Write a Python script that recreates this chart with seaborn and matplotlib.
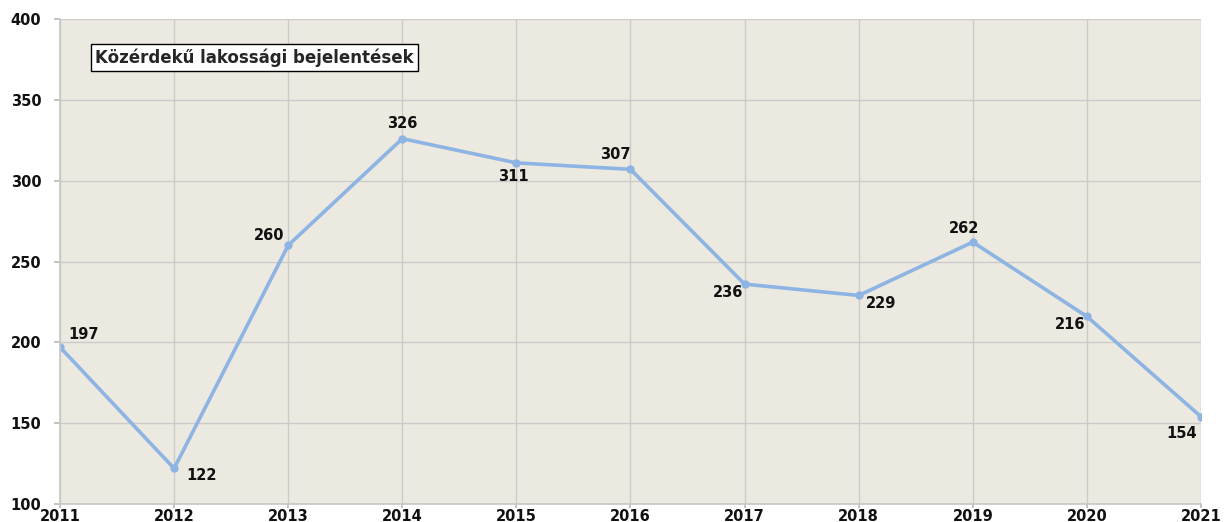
import matplotlib
matplotlib.use("Agg")
import matplotlib.pyplot as plt
import pandas as pd
import seaborn as sns

years = [2011, 2012, 2013, 2014, 2015, 2016, 2017, 2018, 2019, 2020, 2021]
reports = [197, 122, 260, 326, 311, 307, 236, 229, 262, 216, 154]
# label placement per point (offset in points)
label_offsets = [(17, 9), (20, -5), (-14, 7), (0, 11), (-2, -10),
                 (-11, 11), (-12, -6), (16, -6), (-6, 10), (-12, -6), (-14, -12)]

title = "Közérdekű lakossági bejelentések"

sns.set_theme(style="whitegrid")
plt.rcParams["font.family"] = ["DejaVu Sans"]

df = pd.DataFrame({"year": years, "reports": reports})

fig = plt.figure(figsize=(12.24, 5.22), dpi=100)
ax = fig.add_axes([60 / 1224, 1 - 504 / 522, 1141 / 1224, 485 / 522])
ax.set_facecolor("#ECE9E0")

sns.lineplot(data=df, x="year", y="reports", ax=ax, color="#8DB4E2",
             linewidth=2.6, marker="o", markersize=6, markeredgewidth=0)

for x, y, (dx, dy) in zip(years, reports, label_offsets):
    ax.annotate(str(y), (x, y), xytext=(dx, dy), textcoords="offset points",
                ha="center", va="center", fontsize=10.5, fontweight="bold", color="#111111")

ax.set_xlim(2011, 2021)
ax.set_ylim(100, 400)
ax.set_xticks(years)
ax.set_yticks(range(100, 401, 50))
ax.grid(True, color="#CBCBCB", linewidth=1)
ax.set_xlabel("")
ax.set_ylabel("")
ax.tick_params(axis="both", labelsize=10.5, color="#BBBBBB")
ax.tick_params(axis="x", bottom=True, length=3, pad=0.5)
ax.tick_params(axis="y", left=True, length=4.5, pad=9)
for lbl in ax.get_xticklabels() + ax.get_yticklabels():
    lbl.set_fontweight("bold")
    lbl.set_color("#111111")
for side in ["top", "right"]:
    ax.spines[side].set_visible(False)
for side in ["left", "bottom"]:
    ax.spines[side].set_color("#C8C8C8")

ax.text(0.031, 0.92, title, transform=ax.transAxes, fontsize=12, fontweight="bold",
        va="center", ha="left",
        bbox=dict(boxstyle="square,pad=0.25", facecolor="white", edgecolor="black", linewidth=1))

fig.savefig("out.png", dpi=100)
plt.close(fig)
